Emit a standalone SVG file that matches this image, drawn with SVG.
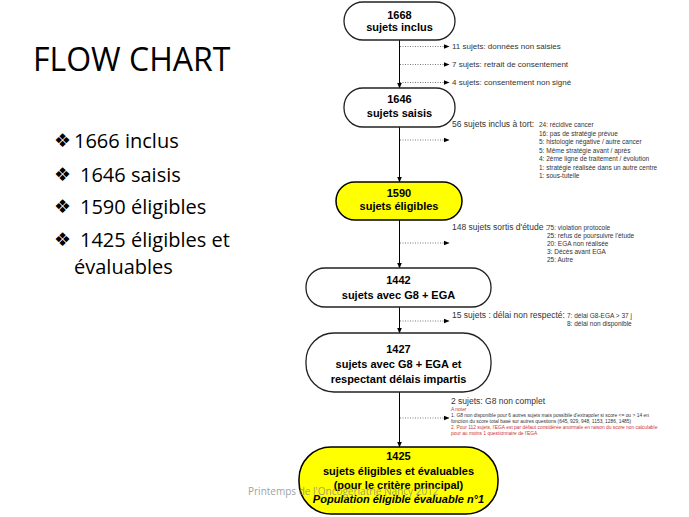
<svg xmlns="http://www.w3.org/2000/svg" width="689" height="517" viewBox="0 0 689 517">
<defs>
<marker id="ah" markerWidth="6" markerHeight="6" refX="5.5" refY="3" orient="auto" markerUnits="userSpaceOnUse"><path d="M0,0.5 L6,3 L0,5.5 z" fill="#000"/></marker>
</defs>
<style>
.node{fill:#fff;stroke:#222;stroke-width:1.3}
.yel{fill:#ffff00;stroke:#000;stroke-width:1.5}
.nt{font-family:"Liberation Sans",Arial,sans-serif;font-weight:bold;font-size:11px;fill:#000;text-anchor:middle}
.side{font-family:"Liberation Sans",Arial,sans-serif;font-size:8px;fill:#333}
.big{font-size:8.5px}
.lst{font-family:"Liberation Sans",Arial,sans-serif;font-size:6.5px;fill:#333}
.sm{font-family:"Liberation Sans",Arial,sans-serif;font-size:4.9px;fill:#333}
.red{fill:#cc3333}
.solid{stroke:#000;stroke-width:1;fill:none}
.dot{stroke:#555;stroke-width:0.8;stroke-dasharray:1 1.5;fill:none}
.title{font-family:"Open Sans",sans-serif;font-size:32px;fill:#000}
.bul{font-family:"Open Sans",sans-serif;font-size:20px;fill:#000}
.bs{font-family:"DejaVu Sans",sans-serif;font-size:19px;fill:#000}
.foot{font-family:"Open Sans",sans-serif;font-size:10px;fill:#8a8a8a}
</style>
<rect width="689" height="517" fill="#fff"/>
<g id="left">
<text class="title" x="33" y="71">FLOW CHART</text>
<text class="bs" x="54" y="147">❖</text><text class="bul" x="74" y="148">1666 inclus</text>
<text class="bs" x="54" y="181">❖</text><text class="bul" x="80" y="182">1646 saisis</text>
<text class="bs" x="54" y="213">❖</text><text class="bul" x="80" y="214">1590 éligibles</text>
<text class="bs" x="54" y="246">❖</text><text class="bul" x="80" y="247">1425 éligibles et</text>
<text class="bul" x="74" y="274">évaluables</text>
</g>
<g id="connectors">
<path class="solid" d="M399.5,40 V88" marker-end="url(#ah)"/>
<path class="solid" d="M399.5,127 V182" marker-end="url(#ah)"/>
<path class="solid" d="M399.5,220 V268" marker-end="url(#ah)"/>
<path class="solid" d="M399.5,307 V333" marker-end="url(#ah)"/>
<path class="solid" d="M399.5,392 V447" marker-end="url(#ah)"/>
<path class="dot" d="M400,46.5 H449" marker-end="url(#ah)"/>
<path class="dot" d="M400,64.5 H449" marker-end="url(#ah)"/>
<path class="dot" d="M400,82.5 H449" marker-end="url(#ah)"/>
<path class="dot" d="M400,140 H449" marker-end="url(#ah)"/>
<path class="dot" d="M400,243 H449" marker-end="url(#ah)"/>
<path class="dot" d="M400,321 H449" marker-end="url(#ah)"/>
<path class="dot" d="M400,418 H449" marker-end="url(#ah)"/>
</g>
<g id="n1">
<rect class="node" x="344" y="2" width="111" height="38" rx="19"/>
<text class="nt" x="399.5" y="19">1668</text>
<text class="nt" x="399.5" y="31">sujets inclus</text>
</g>
<g id="n2">
<rect class="node" x="344" y="88" width="111" height="39" rx="19"/>
<text class="nt" x="399.5" y="103">1646</text>
<text class="nt" x="399.5" y="117">sujets saisis</text>
</g>
<g id="n3">
<rect class="yel" x="336" y="182" width="126" height="38" rx="19"/>
<text class="nt" x="399" y="197">1590</text>
<text class="nt" x="399" y="210">sujets éligibles</text>
</g>
<g id="n4">
<rect class="node" x="306" y="268" width="185" height="39" rx="19"/>
<text class="nt" x="398.5" y="284">1442</text>
<text class="nt" x="398.5" y="299">sujets avec G8 + EGA</text>
</g>
<g id="n5">
<rect class="node" x="306" y="333" width="185" height="59" rx="28"/>
<text class="nt" x="398.5" y="353">1427</text>
<text class="nt" x="398.5" y="368">sujets avec G8 + EGA et</text>
<text class="nt" x="398.5" y="383">respectant délais impartis</text>
</g>
<g id="n6">
<rect class="yel" x="299" y="447" width="199" height="67" rx="32"/>
<text class="nt" x="398.5" y="460">1425</text>
<text class="nt" x="398.5" y="475">sujets éligibles et évaluables</text>
<text class="nt" x="398.5" y="489">(pour le critère principal)</text>
<text class="nt" x="398.5" y="503" font-style="italic">Population éligible évaluable n°1</text>
</g>
<g id="side">
<text class="side" x="452" y="49">11 sujets: données non saisies</text>
<text class="side" x="452" y="67">7 sujets: retrait de consentement</text>
<text class="side" x="452" y="85">4 sujets: consentement non signé</text>
<text class="side big" x="452" y="127">56 sujets inclus à tort:</text>
<text class="lst" x="539" y="127">24: récidive cancer</text>
<text class="lst" x="539" y="135.5">16: pas de stratégie prévue</text>
<text class="lst" x="539" y="144">5: histologie négative / autre cancer</text>
<text class="lst" x="539" y="152.5">5: Même stratégie avant / après</text>
<text class="lst" x="539" y="161">4: 2ème ligne de traitement / évolution</text>
<text class="lst" x="539" y="169.5">1: stratégie réalisée dans un autre centre</text>
<text class="lst" x="539" y="178">1: sous-tutelle</text>
<text class="side big" x="452" y="230">148 sujets sortis d'étude :</text>
<text class="lst" x="547" y="230">75: violation protocole</text>
<text class="lst" x="547" y="238">25: refus de poursuivre l'étude</text>
<text class="lst" x="547" y="246">20: EGA non réalisée</text>
<text class="lst" x="547" y="254">3: Décès avant EGA</text>
<text class="lst" x="547" y="262">25: Autre</text>
<text class="side big" x="452" y="318">15 sujets : délai non respecté:</text>
<text class="lst" x="567" y="318">7: délai G8-EGA &gt; 37 j</text>
<text class="lst" x="567" y="326">8: délai non disponible</text>
<text class="side big" x="451" y="404">2 sujets: G8 non complet</text>
<text class="sm red" x="451" y="411">A noter</text>
<text class="sm" x="451" y="417">1. G8 non disponible pour 6 autres sujets mais possibile d'extrapoler si score &lt;= ou &gt; 14 en</text>
<text class="sm" x="451" y="423">fonction du score total basé sur  autres questions (645, 929, 948, 1153, 1286, 1485)</text>
<text class="sm red" x="451" y="429">2. Pour 112 sujets, l'EGA est par défaut considérée anormale en raison du score non calculable</text>
<text class="sm red" x="451" y="435">pour au moins 1 questionnaire de l'EGA</text>
</g>
<text class="foot" x="248" y="495" opacity="0.8">Printemps de l'Oncogériatrie Nancy 2012</text>
</svg>
